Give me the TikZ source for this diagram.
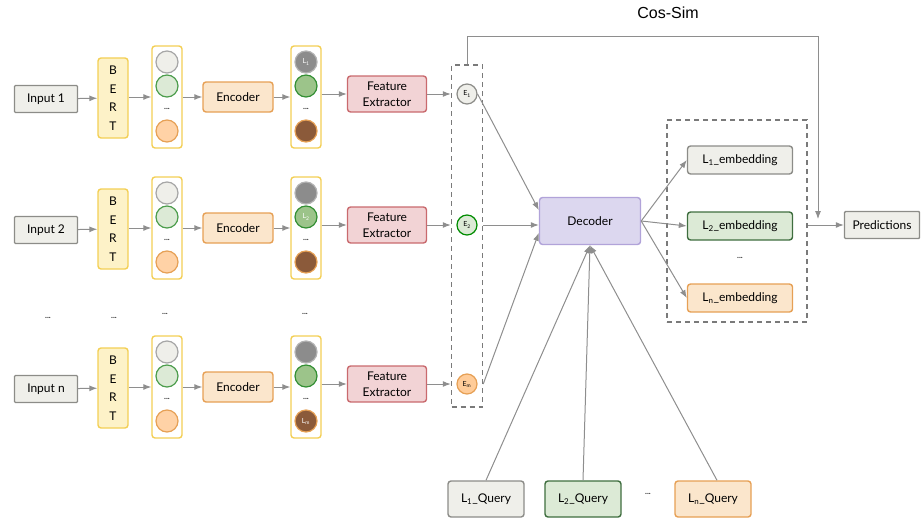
\documentclass[tikz,border=0pt]{standalone}
\usepackage{fontspec}
\setmainfont{Lato}
\newfontfamily\arialfont{Liberation Sans}
\usepackage{xcolor}
\usetikzlibrary{positioning, arrows.meta, calc}

\definecolor{graydraw}{HTML}{8C8C88}
\definecolor{grayfill}{HTML}{EFEFEA}
\definecolor{yeldraw}{HTML}{F3CF55}
\definecolor{yelfill}{HTML}{FDF2C8}
\definecolor{oradraw}{HTML}{E6A055}
\definecolor{orafill}{HTML}{FBE6CC}
\definecolor{reddraw}{HTML}{C96A6E}
\definecolor{redfill}{HTML}{F2D3D5}
\definecolor{purdraw}{HTML}{B1A3D9}
\definecolor{purfill}{HTML}{DCD7EF}
\definecolor{grndraw}{HTML}{3F6E3F}
\definecolor{grnfill}{HTML}{DCEAD6}
\definecolor{grnmid}{HTML}{9CC48A}
\definecolor{brnfill}{HTML}{8B5A3A}
\definecolor{arrgray}{HTML}{8E8E8E}
\definecolor{dashgray}{HTML}{7A7A7A}

\tikzset{
    box/.style={rounded corners=3pt, line width=1.4pt, align=center, inner sep=2pt,
        font=\fontsize{12}{14}\selectfont},
    inbox/.style={box, draw=graydraw, fill=grayfill, rounded corners=1pt, minimum width=63, minimum height=27},
    bertbox/.style={box, draw=yeldraw, fill=yelfill, minimum width=30, minimum height=80,
        font=\fontsize{12}{18.5}\selectfont},
    tokcol/.style={draw=yeldraw, fill=white, line width=1.4pt, rounded corners=3pt, minimum width=30, minimum height=102},
    encbox/.style={box, draw=oradraw, fill=orafill, minimum width=70, minimum height=30},
    featbox/.style={box, draw=reddraw, fill=redfill, minimum width=79, minimum height=36,
        font=\fontsize{12}{16}\selectfont},
    decbox/.style={box, draw=purdraw, fill=purfill, minimum width=101, minimum height=47},
    embbox/.style={box, minimum width=105, minimum height=28},
    qbox/.style={box, minimum width=76, minimum height=36},
    circ/.style={circle, minimum size=22, inner sep=0pt, line width=1.2pt, text=white,
        font=\fontsize{7}{8}\selectfont},
    lgc/.style={circ, draw=gray!70, fill=grayfill},
    gnc/.style={circ, draw=green!45!black!70, fill=grnfill},
    orc/.style={circ, draw=oradraw, fill=orange!35!white},
    dgc/.style={circ, draw=gray!60, fill=gray!90},
    dgnc/.style={circ, draw=green!45!black!80, fill=grnmid},
    brc/.style={circ, draw=oradraw, fill=brnfill},
    ecirc/.style={circle, minimum size=20, inner sep=0pt, line width=1.2pt, font=\fontsize{7}{8}\selectfont},
    e1/.style={ecirc, draw=graydraw, fill=grayfill},
    e2/.style={ecirc, draw=green!55!black, fill=grnfill},
    e3/.style={ecirc, draw=oradraw, fill=orange!40!white},
    dashbox/.style={draw=dashgray, dash pattern=on 5pt off 4pt, line width=1.5pt},
    dots/.style={font=\fontsize{8}{8}\selectfont\bfseries, text=black!80},
    arr/.style={-{Latex[length=8pt, width=6pt]}, draw=arrgray, line width=1pt},
}

\begin{document}
\begin{tikzpicture}[x=1pt, y=-1pt]
    % Page frame
    \useasboundingbox (0,0) rectangle (923,527);

    % Three input rows
    \foreach \i/\y/\t/\la/\lb/\lc in {1/97/1/{L\textsubscript{1}}/{}/{}, 2/228/2/{}/{L\textsubscript{2}}/{}, 3/387/n/{}/{}/{L\textsubscript{m}}} {
        \node[inbox] (in\i) at (46,\y+2) {Input \t};
        \node[bertbox] (bert\i) at (113,\y+1) {B\\E\\R\\T};
        % BERT token column
        \node[tokcol] (tokA\i) at (167,\y) {};
        \node[lgc] (tokA\i-a) at (167,\y-35) {};
        \node[gnc] (tokA\i-b) at (167,\y-11) {};
        \node[dots] at (167,\y+12) {...};
        \node[orc] (tokA\i-c) at (167,\y+34) {};
        \node[encbox] (enc\i) at (238,\y) {Encoder};
        % Encoder token column
        \node[tokcol] (tokB\i) at (306,\y) {};
        \node[dgc] (tokB\i-a) at (306,\y-35) {\la};
        \node[dgnc] (tokB\i-b) at (306,\y-11) {\lb};
        \node[dots] at (306,\y+12) {...};
        \node[brc] (tokB\i-c) at (306,\y+34) {\lc};
        \node[featbox] (feat\i) at (387,\y-3) {Feature\\Extractor};

        \draw[arr] (in\i) -- (bert\i);
        \draw[arr] (bert\i.east |- tokA\i.west) -- (tokA\i);
        \draw[arr] (tokA\i) -- (enc\i);
        \draw[arr] (enc\i) -- (tokB\i);
        \draw[arr] (tokB\i.east |- feat\i.west) -- (feat\i);
    }

    % Extracted features
    \node[dashbox, minimum width=31, minimum height=342, inner sep=0pt] (ecol) at (467,236) {};
    \node[e1] (E1) at (467,94) {E\textsubscript{1}};
    \node[e2] (E2) at (467,225) {E\textsubscript{2}};
    \node[e3] (E3) at (467,384) {E\textsubscript{m}};
    \draw[arr] (feat1) -- (ecol.west |- feat1.east);
    \draw[arr] (feat2) -- (ecol.west |- feat2.east);
    \draw[arr] (feat3) -- (ecol.west |- feat3.east);

    % Row dots
    \node[dots] at (48,318) {...};
    \node[dots] at (114,318) {...};
    \node[dots] at (165,314) {...};
    \node[dots] at (305,314) {...};

    % Decoder
    \node[decbox] (dec) at (590,221) {Decoder};
    \draw[arr] (E1.east) -- (dec.168);
    \draw[arr] (ecol.east |- E2) -- (dec.west |- E2);
    \draw[arr] (ecol.east |- E3) -- (dec.193);

    % Label queries
    \node[qbox, draw=graydraw, fill=grayfill] (q1) at (486,499) {L\textsubscript{1}\_Query};
    \node[qbox, draw=grndraw, fill=grnfill] (q2) at (583,499) {L\textsubscript{2}\_Query};
    \node[dots] at (648,494) {...};
    \node[qbox, draw=oradraw, fill=orafill] (q3) at (713,499) {L\textsubscript{n}\_Query};
    \draw[arr] (q1.north) -- (dec.south);
    \draw[arr] (q2.north) -- (dec.south);
    \draw[arr] ([xshift=4pt]q3.north) -- (dec.south);

    % Label embeddings
    \node[dashbox, minimum width=140, minimum height=202, inner sep=0pt] (embs) at (737,221) {};
    \node[embbox, draw=graydraw, fill=grayfill] (emb1) at (740,160) {L\textsubscript{1}\_embedding};
    \node[embbox, draw=grndraw, fill=grnfill] (emb2) at (740,226) {L\textsubscript{2}\_embedding};
    \node[dots] at (740,258) {...};
    \node[embbox, draw=oradraw, fill=orafill] (emb3) at (740,298) {L\textsubscript{n}\_embedding};
    \draw[arr] (dec.east) -- (emb1.west);
    \draw[arr] (dec.east) -- (emb2.west);
    \draw[arr] (dec.east) -- (emb3.west);

    % Predictions
    \node[inbox, minimum width=75] (pred) at (882,225) {Predictions};
    \coordinate (cosin) at (818,219);
    \draw[arr] (embs.east |- pred.west) -- (pred.west);
    \draw[arr, line width=0.8pt] (ecol.north) -- ++(0,-28) -| (cosin);
    \node[font=\arialfont\fontsize{16}{18}\selectfont] (cos) at (668,13) {Cos-Sim};
\end{tikzpicture}
\end{document}
